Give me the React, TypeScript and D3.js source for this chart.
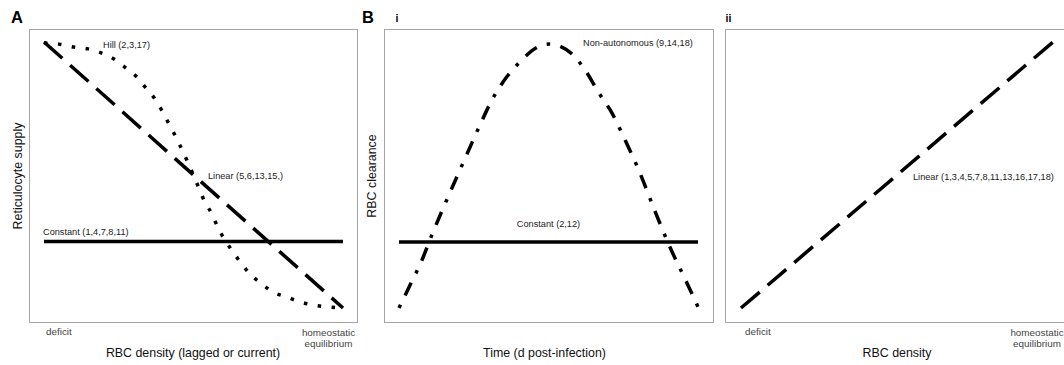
import React from "react";
import * as d3 from "d3";

// ---------- data (normalised 0..1 conceptual axes) ----------
// Panel A: reticulocyte supply vs RBC density
const hillX = [0, 0.05, 0.1, 0.147, 0.191, 0.234, 0.274, 0.311, 0.341, 0.371, 0.395, 0.418, 0.441, 0.462, 0.482, 0.518, 0.538, 0.562, 0.582, 0.605, 0.632, 0.659, 0.689, 0.729, 0.766, 0.813, 0.856, 0.903, 0.95, 1.0];
const hillY = [0.996, 0.992, 0.981, 0.974, 0.959, 0.936, 0.902, 0.868, 0.827, 0.786, 0.741, 0.692, 0.643, 0.594, 0.545, 0.451, 0.398, 0.353, 0.301, 0.256, 0.211, 0.169, 0.128, 0.09, 0.06, 0.041, 0.023, 0.011, 0.004, 0.0];
const linearAX = [0, 1];
const linearAY = [1, 0];
const constantAX = [0, 1];
const constantAY = [0.25, 0.25];

// Panel B i: RBC clearance vs time
const nonAutoX = [0, 0.037, 0.077, 0.11, 0.161, 0.214, 0.268, 0.311, 0.348, 0.408, 0.458, 0.502, 0.538, 0.579, 0.622, 0.669, 0.712, 0.753, 0.806, 0.856, 0.906, 0.963, 1.0];
const nonAutoY = [0, 0.087, 0.182, 0.277, 0.413, 0.549, 0.686, 0.788, 0.856, 0.936, 0.985, 1.0, 0.992, 0.962, 0.902, 0.814, 0.739, 0.644, 0.511, 0.367, 0.231, 0.095, 0.004];
const constantBX = [0, 1];
const constantBY = [0.25, 0.25];

// Panel B ii: RBC clearance vs RBC density
const linearBX = [0, 1];
const linearBY = [0, 1];

// Labels
const panelLetters = ["A", "B"];
const subLabels = ["i", "ii"];
const yTitles = ["Reticulocyte supply", "RBC clearance"];
const xTitles = ["RBC density (lagged or current)", "Time (d post-infection)", "RBC density"];
const tickLow = "deficit";
const tickHigh = ["homeostatic", "equilibrium"];
const labelHill = "Hill (2,3,17)";
const labelLinearA = "Linear (5,6,13,15,)";
const labelConstantA = "Constant (1,4,7,8,11)";
const labelNonAuto = "Non-autonomous (9,14,18)";
const labelConstantB = "Constant (2,12)";
const labelLinearB = "Linear (1,3,4,5,7,8,11,13,16,17,18)";

const FONT = "'Liberation Sans', Arial, Helvetica, sans-serif";
const LW = 3.5;
const DOTTED = "3.5,10.5";
const LONGDASH = "24.5,10.5";
const DOTDASH = "3.5,10.5,14,10.5";

const zip = (xs: number[], ys: number[]) => xs.map((x, i) => [x, ys[i]] as [number, number]);

export default function App() {
  const W = 1064, H = 365;

  // panel geometry
  const boxA = { x0: 29.5, x1: 357.5, y0: 29.5, y1: 322.5 };
  const boxI = { x0: 384.5, x1: 713.5, y0: 29.5, y1: 322.5 };
  const boxII = { x0: 725.5, x1: 1069, y0: 29.5, y1: 322.5 };

  const xA = d3.scaleLinear().domain([0, 1]).range([44, 343]);
  const yA = d3.scaleLinear().domain([0, 1]).range([308, 42]);
  const xI = d3.scaleLinear().domain([0, 1]).range([399, 698]);
  const yI = d3.scaleLinear().domain([0, 1]).range([308, 44]);
  const xII = d3.scaleLinear().domain([0, 1]).range([741, 1053]);
  const yII = d3.scaleLinear().domain([0, 1]).range([308, 42]);

  const mk = (xs: d3.ScaleLinear<number, number>, ys: d3.ScaleLinear<number, number>, curve = d3.curveLinear) =>
    d3.line<[number, number]>().x((d) => xs(d[0])).y((d) => ys(d[1])).curve(curve);

  const lineA = mk(xA, yA);
  const curveA = mk(xA, yA, d3.curveMonotoneX);
  const lineI = mk(xI, yI);
  const curveI = mk(xI, yI, d3.curveMonotoneX);
  const lineII = mk(xII, yII);

  const stroke = { fill: "none", stroke: "#000", strokeWidth: LW, strokeLinecap: "butt" as const };
  const boxStyle = { fill: "none", stroke: "#a6a6a6", strokeWidth: 1 };
  const ann = { fontFamily: FONT, fontSize: 9.2, fill: "#222" };
  const tick = { fontFamily: FONT, fontSize: 9.9, fill: "#444" };
  const title = { fontFamily: FONT, fontSize: 12.4, fill: "#111" };

  return (
    <svg width={W} height={H} style={{ position: "absolute", left: 0, top: 0, background: "#fff" }}>
      {/* panel letters */}
      <text x={11} y={23} style={{ fontFamily: FONT, fontSize: 16.5, fontWeight: "bold" }}>{panelLetters[0]}</text>
      <text x={362} y={23} style={{ fontFamily: FONT, fontSize: 16.5, fontWeight: "bold" }}>{panelLetters[1]}</text>
      <text x={395.5} y={22} style={{ fontFamily: FONT, fontSize: 10.5, fontWeight: "bold" }}>{subLabels[0]}</text>
      <text x={725.5} y={22} style={{ fontFamily: FONT, fontSize: 10.5, fontWeight: "bold" }}>{subLabels[1]}</text>

      {/* boxes */}
      <rect x={boxA.x0} y={boxA.y0} width={boxA.x1 - boxA.x0} height={boxA.y1 - boxA.y0} style={boxStyle} />
      <rect x={boxI.x0} y={boxI.y0} width={boxI.x1 - boxI.x0} height={boxI.y1 - boxI.y0} style={boxStyle} />
      <rect x={boxII.x0} y={boxII.y0} width={boxII.x1 - boxII.x0} height={boxII.y1 - boxII.y0} style={boxStyle} />

      {/* Panel A */}
      <path d={lineA(zip(constantAX, constantAY)) || ""} style={stroke} />
      <path d={curveA(zip(hillX, hillY)) || ""} style={{ ...stroke, strokeDasharray: DOTTED }} />
      <path d={lineA(zip(linearAX, linearAY)) || ""} style={{ ...stroke, strokeDasharray: LONGDASH }} />
      <text x={103} y={45} dominantBaseline="central" style={ann}>{labelHill}</text>
      <text x={208} y={176} dominantBaseline="central" style={ann}>{labelLinearA}</text>
      <text x={43} y={232} dominantBaseline="central" style={ann}>{labelConstantA}</text>
      <text x={46} y={331} dominantBaseline="central" style={tick}>{tickLow}</text>
      <text x={328.5} y={332} textAnchor="middle" dominantBaseline="central" style={tick}>{tickHigh[0]}</text>
      <text x={328.5} y={343} textAnchor="middle" dominantBaseline="central" style={tick}>{tickHigh[1]}</text>
      <text x={193} y={353} textAnchor="middle" dominantBaseline="central" style={title}>{xTitles[0]}</text>
      <text transform={`translate(18,${(boxA.y0 + boxA.y1) / 2}) rotate(-90)`} textAnchor="middle" dominantBaseline="central" style={title}>{yTitles[0]}</text>

      {/* Panel B i */}
      <path d={lineI(zip(constantBX, constantBY)) || ""} style={stroke} />
      <path d={curveI(zip(nonAutoX, nonAutoY)) || ""} style={{ ...stroke, strokeDasharray: DOTDASH }} />
      <text x={583} y={43} dominantBaseline="central" style={ann}>{labelNonAuto}</text>
      <text x={548.5} y={224} textAnchor="middle" dominantBaseline="central" style={ann}>{labelConstantB}</text>
      <text x={544.5} y={353} textAnchor="middle" dominantBaseline="central" style={title}>{xTitles[1]}</text>
      <text transform={`translate(372,${(boxI.y0 + boxI.y1) / 2}) rotate(-90)`} textAnchor="middle" dominantBaseline="central" style={title}>{yTitles[1]}</text>

      {/* Panel B ii */}
      <path d={lineII(zip(linearBX, linearBY)) || ""} style={{ ...stroke, strokeDasharray: LONGDASH }} />
      <text x={913} y={177} dominantBaseline="central" style={ann}>{labelLinearB}</text>
      <text x={745} y={331} dominantBaseline="central" style={tick}>{tickLow}</text>
      <text x={1037} y={332} textAnchor="middle" dominantBaseline="central" style={tick}>{tickHigh[0]}</text>
      <text x={1037} y={343} textAnchor="middle" dominantBaseline="central" style={tick}>{tickHigh[1]}</text>
      <text x={897} y={353} textAnchor="middle" dominantBaseline="central" style={title}>{xTitles[2]}</text>
    </svg>
  );
}
